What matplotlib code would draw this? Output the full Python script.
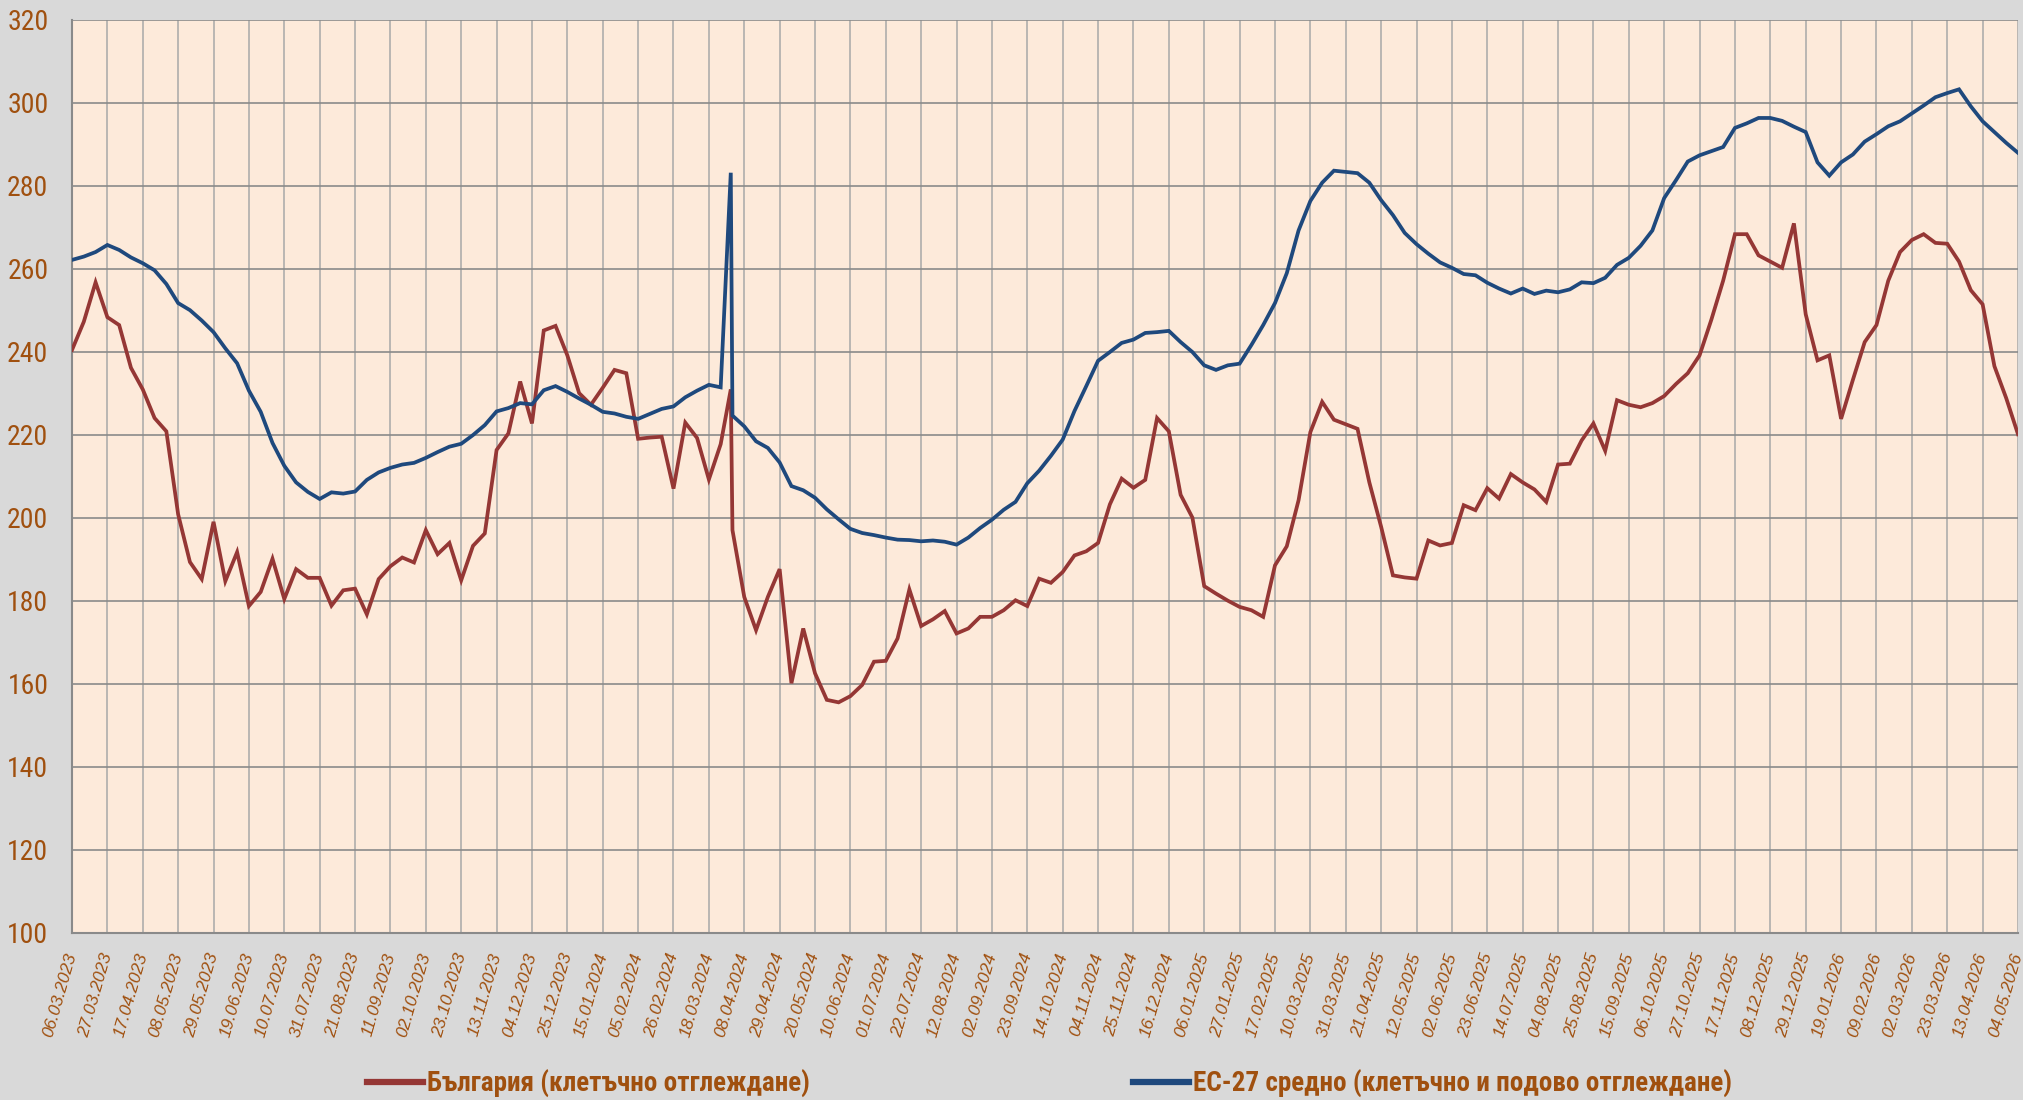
import matplotlib
matplotlib.use("Agg")
import matplotlib.pyplot as plt
import matplotlib.dates as mdates
from matplotlib.lines import Line2D
import numpy as np
import pandas as pd

# ---- data -------------------------------------------------------------
start_date = "2023-03-06"
n_weeks = 166
extra_date = "2024-03-31"      # extra (out of sequence) observation seen as a spike
extra_after = 55               # inserted after weekly index 55

bg_values = [
    240.4, 247.2, 256.7, 248.3, 246.4, 236.1, 230.9, 224.0, 220.8, 200.8,
    189.3, 185.2, 199.0, 184.7, 191.7, 178.7, 182.1, 190.1, 180.4, 187.6,
    185.5, 185.5, 178.8, 182.5, 182.9, 176.7, 185.2, 188.3, 190.4, 189.2,
    197.0, 191.2, 193.9, 184.9, 193.2, 196.2, 216.3, 220.3, 232.8, 222.7,
    245.1, 246.2, 239.1, 230.0, 227.2, 231.3, 235.6, 234.8, 219.0, 219.3,
    219.5, 207.0, 222.9, 219.2, 209.2, 217.7,
    197.0, 180.9, 172.9, 180.9, 187.6, 160.1, 173.3, 162.5, 156.1, 155.5,
    157.0, 159.7, 165.3, 165.5, 170.9, 182.7, 173.9, 175.5, 177.5, 172.1,
    173.3, 176.1, 176.1, 177.7, 180.1, 178.7, 185.3, 184.3, 186.9, 190.9,
    191.9, 193.9, 203.2, 209.4, 207.2, 209.1, 224.0, 220.8, 205.5, 200.0,
    183.5, 181.7, 180.0, 178.5, 177.7, 176.1, 188.5, 193.1, 204.2, 220.6,
    227.9, 223.6, 222.5, 221.4, 208.5, 197.8, 186.1, 185.6, 185.3, 194.5,
    193.3, 193.9, 203.0, 201.8, 207.1, 204.6, 210.5, 208.5, 206.8, 203.8,
    212.8, 213.0, 218.6, 222.7, 216.1, 228.3, 227.2, 226.6, 227.6, 229.3,
    232.2, 234.8, 239.1, 247.7, 257.1, 268.3, 268.3, 263.2, 261.7, 260.2,
    270.9, 249.0, 237.9, 239.1, 223.8, 233.2, 242.3, 246.4, 257.1, 264.0,
    266.9, 268.3, 266.2, 266.0, 261.7, 254.8, 251.4, 236.5, 228.8, 220.1,
]
bg_extra = 230.9

eu_values = [
    262.1, 262.9, 264.0, 265.7, 264.5, 262.7, 261.3, 259.6, 256.3, 251.7,
    250.0, 247.5, 244.7, 240.8, 237.2, 230.6, 225.5, 218.0, 212.5, 208.5,
    206.2, 204.5, 206.1, 205.8, 206.3, 209.1, 210.9, 212.0, 212.8, 213.2,
    214.4, 215.8, 217.1, 217.8, 219.9, 222.3, 225.6, 226.4, 227.6, 227.3,
    230.7, 231.7, 230.3, 228.7, 227.2, 225.5, 225.1, 224.3, 223.8, 225.0,
    226.2, 226.8, 229.0, 230.6, 232.0, 231.4,
    224.6, 222.0, 218.4, 216.8, 213.3, 207.6, 206.6, 204.8, 202.0, 199.6,
    197.3, 196.3, 195.8, 195.2, 194.7, 194.6, 194.3, 194.5, 194.2, 193.5,
    195.2, 197.5, 199.5, 201.9, 203.8, 208.3, 211.3, 214.9, 218.8, 225.7,
    231.7, 237.8, 239.9, 242.1, 242.9, 244.5, 244.7, 245.0, 242.3, 239.9,
    236.7, 235.6, 236.7, 237.1, 241.6, 246.4, 251.7, 258.9, 269.2, 276.3,
    280.7, 283.6, 283.3, 283.0, 280.7, 276.5, 272.9, 268.6, 265.9, 263.6,
    261.5, 260.2, 258.7, 258.4, 256.6, 255.2, 254.0, 255.2, 253.9, 254.7,
    254.3, 255.0, 256.7, 256.5, 257.8, 260.9, 262.6, 265.5, 269.2, 277.0,
    281.3, 285.8, 287.3, 288.3, 289.3, 293.9, 295.0, 296.3, 296.3, 295.6,
    294.2, 292.9, 285.6, 282.4, 285.6, 287.5, 290.6, 292.4, 294.3, 295.5,
    297.4, 299.3, 301.3, 302.3, 303.2, 299.1, 295.5, 292.9, 290.3, 287.9,
]
eu_extra = 283.1

label_bg = "България (клетъчно отглеждане)"
label_eu = "ЕС-27 средно (клетъчно и подово отглеждане)"
y_ticks = [100, 120, 140, 160, 180, 200, 220, 240, 260, 280, 300, 320]

# ---- assemble series (with the out-of-sequence extra point) -------------
weekly = pd.date_range(start_date, periods=n_weeks, freq="7D")
dates = list(weekly[:extra_after + 1]) + [pd.Timestamp(extra_date)] + list(weekly[extra_after + 1:])
bg = bg_values[:extra_after + 1] + [bg_extra] + bg_values[extra_after + 1:]
eu = eu_values[:extra_after + 1] + [eu_extra] + eu_values[extra_after + 1:]
tick_dates = weekly[::3]

# ---- style ------------------------------------------------------------
TXT = "#A0500F"
RED = "#953735"
BLUE = "#1F497D"
narrow = ["Arial Narrow", "Liberation Sans Narrow", "Roboto Condensed", "PT Sans Narrow",
          "Archivo Narrow", "IBM Plex Sans Condensed", "Open Sans Condensed",
          "Liberation Sans", "DejaVu Sans"]
regular = ["Liberation Sans", "DejaVu Sans"]
plt.rcParams["font.family"] = regular

fig = plt.figure(figsize=(20.24, 11.0), dpi=100, facecolor="#D9D9D9")
ax = fig.add_axes([72 / 2024, 1 - 932.7 / 1100, (2018 - 72) / 2024, (932.7 - 19.6) / 1100])
ax.set_facecolor("#FDEADA")

ax.plot(dates, bg, color=RED, lw=2.7, solid_joinstyle="miter", zorder=3)
ax.plot(dates, eu, color=BLUE, lw=2.7, solid_joinstyle="miter", zorder=4)

ax.set_ylim(100, 320)
ax.set_yticks(y_ticks)
ax.set_xlim(weekly[0], weekly[-1])
ax.set_xticks(tick_dates)
ax.xaxis.set_major_formatter(mdates.DateFormatter("%d.%m.%Y"))

ax.yaxis.grid(True, color="#8A8A8A", lw=1.2, zorder=1)
ax.xaxis.grid(True, color="#A8A8A8", lw=1.1, zorder=1)
ax.set_axisbelow(True)
for s in ["top", "right"]:
    ax.spines[s].set_visible(False)
for s in ["left", "bottom"]:
    ax.spines[s].set_color("#8A8A8A")
    ax.spines[s].set_linewidth(1.5)

ax.tick_params(axis="both", length=0)
ax.tick_params(axis="y", pad=17)
for t in ax.get_yticklabels():
    t.set_fontfamily(narrow)
    t.set_fontsize(20)
    t.set_color(TXT)

ax.tick_params(axis="x", pad=15)
for t in ax.get_xticklabels():
    t.set_fontfamily(regular)
    t.set_fontstyle("italic")
    t.set_fontsize(12.5)
    t.set_color(TXT)
    t.set_rotation(74)
    t.set_rotation_mode("anchor")
    t.set_ha("right")
    t.set_va("center")

# ---- legend (two entries spread along the bottom) -------------------------
h_bg = Line2D([], [], color=RED, lw=4.5)
h_eu = Line2D([], [], color=BLUE, lw=4.5)
ycen = 1 - 1084 / 1100
for h, lab, x in [(h_bg, label_bg, 367 / 2024), (h_eu, label_eu, 1133 / 2024)]:
    leg = fig.legend([h], [lab], loc="center left", bbox_to_anchor=(x, ycen),
                     frameon=False, borderpad=0, borderaxespad=0,
                     handlelength=2.05, handletextpad=0.15,
                     prop={"family": narrow, "weight": "bold", "size": 19.5})
    for t in leg.get_texts():
        t.set_color(TXT)

fig.savefig("out.png", dpi=100, facecolor=fig.get_facecolor())
